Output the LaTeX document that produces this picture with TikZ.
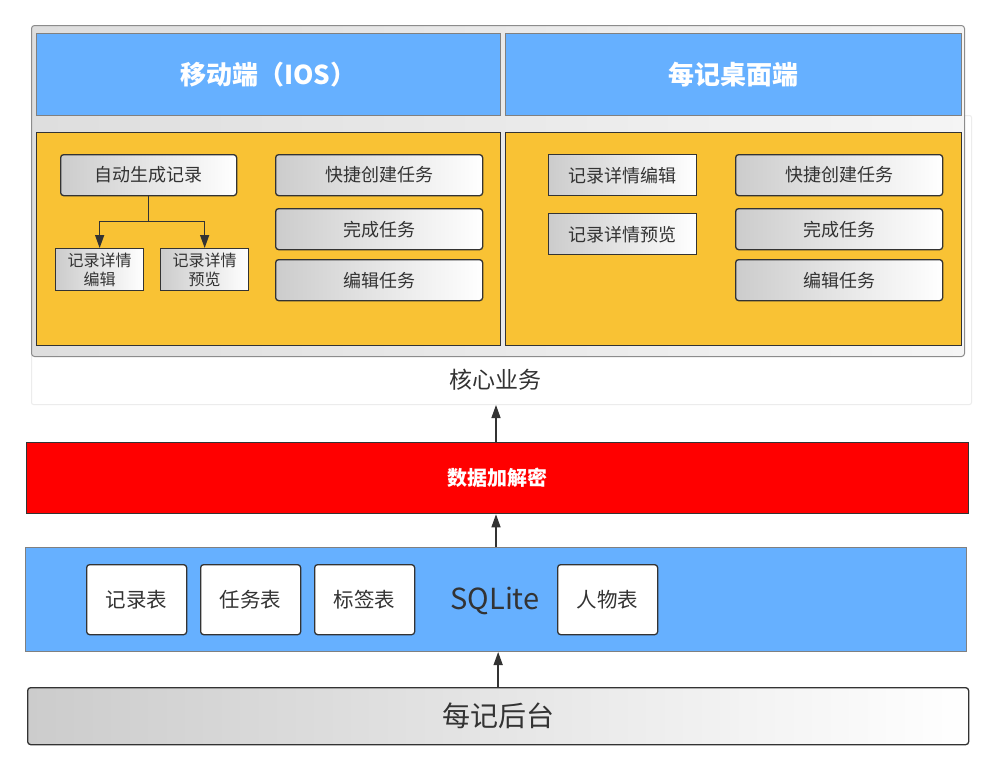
\documentclass[tikz,border=0pt]{standalone}
\usepackage{fontspec}
\setmainfont{Noto Sans CJK SC}
\usetikzlibrary{positioning,arrows.meta}
\definecolor{hdblue}{HTML}{66B0FF}
\definecolor{bizorange}{HTML}{F9C234}
\definecolor{inkgray}{HTML}{333333}

\begin{document}
\begin{tikzpicture}[
    x=1pt,y=-1pt,
    box/.style={draw=inkgray,line width=1.3pt,inner sep=0pt,anchor=north west,text=inkgray},
    head/.style={box,draw=gray,line width=1pt,fill=hdblue,minimum height=82pt,text=white,
      font=\fontsize{26}{30}\selectfont\bfseries},
    panel/.style={box,fill=bizorange,minimum height=213pt},
    func/.style={box,rounded corners=3pt,left color=gray!40,right color=white,
      minimum width=207pt,minimum height=41pt,font=\fontsize{18}{22}\selectfont},
    rec/.style={box,left color=gray!40,right color=white,font=\fontsize{18}{22}\selectfont},
    tbl/.style={box,rounded corners=3pt,fill=white,minimum width=100pt,minimum height=70pt,
      font=\fontsize{20.5}{24}\selectfont},
    link/.style={-{Triangle[length=13pt,width=9pt]},line width=1.4pt,draw=inkgray}
  ]
  \useasboundingbox[fill=white] (0,0) rectangle (996,769);

  % core layer with the two clients
  \node[box,draw=gray!15,line width=1pt,rounded corners=2pt,fill=white,
    minimum width=940pt,minimum height=289pt] (core) at (31,115) {};
  \node[text=inkgray,font=\fontsize{23}{26}\selectfont] (coretxt) at (495,380) {核心业务};
  \node[box,draw=gray!90,line width=1pt,rounded corners=3pt,left color=gray!26,right color=gray!8,
    minimum width=933pt,minimum height=331pt] (client) at (31,25) {};

  \node[head,minimum width=464pt] (ios) at (36,33) {移动端（IOS）};
  \node[head,minimum width=456pt] (desk) at (505,33) {每记桌面端};
  \node[panel,minimum width=464pt] (iospanel) at (36,132) {};
  \node[panel,minimum width=456pt] (deskpanel) at (505,132) {};

  % mobile
  \node[func,minimum width=176pt] (auto) at (60,154) {自动生成记录};
  \node[rec,minimum width=88pt,minimum height=42pt,align=center,
    font=\fontsize{16}{19}\selectfont] (iosedit) at (55,248) {记录详情\\编辑};
  \node[rec,minimum width=88pt,minimum height=42pt,align=center,
    font=\fontsize{16}{19}\selectfont] (iosview) at (160,248) {记录详情\\预览};
  \node[func] (iosfast) at (275,154) {快捷创建任务};
  \node[func] (iosdone) at (275,208) {完成任务};
  \node[func] (iostask) at (275,259) {编辑任务};
  \draw[link] (auto.south) -- ++(0,25) -| (iosedit.north);
  \draw[link] (auto.south) -- ++(0,25) -| (iosview.north);

  % desktop
  \node[rec,minimum width=148pt,minimum height=41pt] (deskedit) at (548,154) {记录详情编辑};
  \node[rec,minimum width=148pt,minimum height=41pt] (deskview) at (548,213) {记录详情预览};
  \node[func] (deskfast) at (735,154) {快捷创建任务};
  \node[func] (deskdone) at (735,208) {完成任务};
  \node[func] (desktask) at (735,259) {编辑任务};

  % crypto
  \node[box,fill=red,minimum width=942pt,minimum height=71pt,text=white,
    font=\fontsize{20}{24}\selectfont\bfseries] (crypto) at (26,442) {数据加解密};

  % storage
  \node[box,draw=gray,line width=1pt,fill=hdblue,minimum width=941pt,minimum height=104pt] (sqlite) at (25,547) {};
  \node[tbl] (rectbl) at (86,564) {记录表};
  \node[tbl] (tasktbl) at (200,564) {任务表};
  \node[tbl] (tagtbl) at (314,564) {标签表};
  \node[text=inkgray,font=\fontsize{29}{32}\selectfont] (sqltxt) at (495,601) {SQLite};
  \node[tbl] (persontbl) at (557,564) {人物表};

  % backend
  \node[box,rounded corners=3pt,left color=gray!40,right color=white,minimum width=941pt,
    minimum height=57pt,font=\fontsize{28}{32}\selectfont] (backend) at (27,687) {每记后台};

  \draw[link] (backend.north) -- (backend.north |- sqlite.south);
  \draw[link] (sqlite.north) -- (sqlite.north |- crypto.south);
  \draw[link] (sqlite.north |- crypto.north) -- (sqlite.north |- core.south);
\end{tikzpicture}
\end{document}
